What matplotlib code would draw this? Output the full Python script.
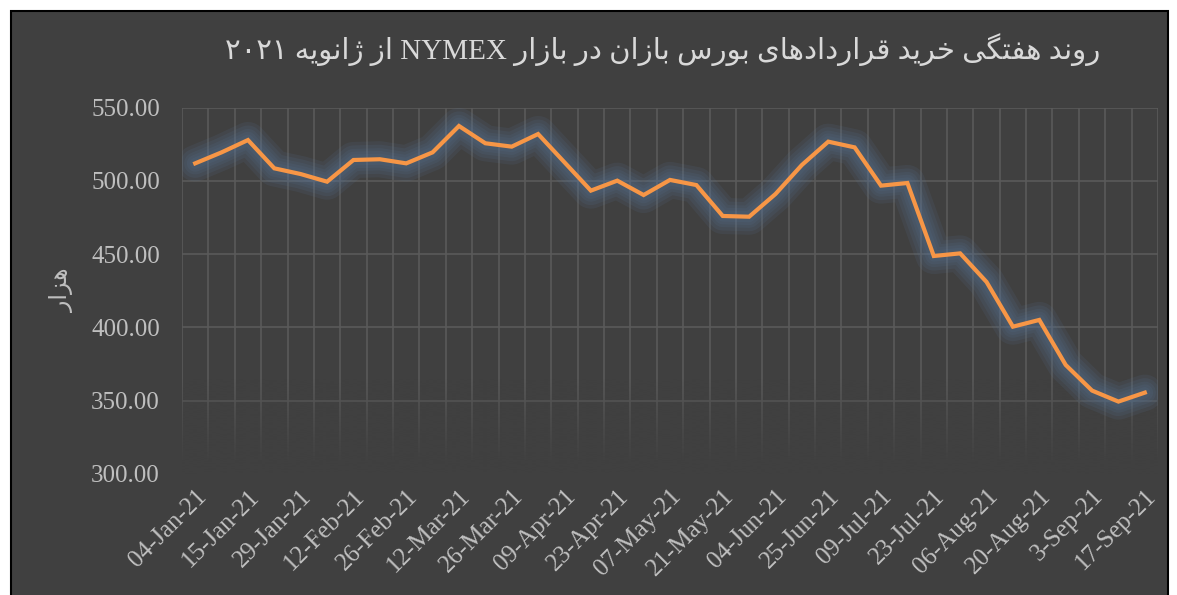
import matplotlib
matplotlib.use('Agg')
import matplotlib.pyplot as plt
import numpy as np
from matplotlib.patches import Rectangle
from matplotlib.ticker import FixedLocator


dates = [
    '04-Jan-21', '08-Jan-21', '15-Jan-21', '22-Jan-21', '29-Jan-21',
    '05-Feb-21', '12-Feb-21', '19-Feb-21', '26-Feb-21', '05-Mar-21',
    '12-Mar-21', '19-Mar-21', '26-Mar-21', '02-Apr-21', '09-Apr-21',
    '16-Apr-21', '23-Apr-21', '30-Apr-21', '07-May-21', '14-May-21',
    '21-May-21', '28-May-21', '04-Jun-21', '18-Jun-21', '25-Jun-21',
    '02-Jul-21', '09-Jul-21', '16-Jul-21', '23-Jul-21', '30-Jul-21',
    '06-Aug-21', '13-Aug-21', '20-Aug-21', '27-Aug-21', '3-Sep-21',
    '10-Sep-21', '17-Sep-21',
]
contracts = [
    511.9, 519.4, 527.8, 508.5, 504.6, 499.4, 514.2, 514.7, 511.9, 519.4,
    537.4, 525.6, 523.3, 531.9, 512.6, 493.3, 500.1, 490.3, 500.6, 497.1,
    476.0, 475.5, 491.0, 510.8, 526.7, 522.8, 496.7, 498.5, 448.7, 450.5,
    431.0, 400.5, 405.1, 374.4, 356.9, 349.4, 355.5,
]
y_ticks = [300, 350, 400, 450, 500, 550]

title_text = 'روند هفتگی خرید قراردادهای بورس بازان در بازار NYMEX از ژانویه ۲۰۲۱'
ylabel_text = 'هزار'

# isolated, final, initial, medial
FORMS = {
    '\u0627': ('\ufe8d', '\ufe8e', None, None),
    '\u0628': ('\ufe8f', '\ufe90', '\ufe91', '\ufe92'),
    '\u062a': ('\ufe95', '\ufe96', '\ufe97', '\ufe98'),
    '\u062e': ('\ufea5', '\ufea6', '\ufea7', '\ufea8'),
    '\u062f': ('\ufea9', '\ufeaa', None, None),
    '\u0631': ('\ufead', '\ufeae', None, None),
    '\u0632': ('\ufeaf', '\ufeb0', None, None),
    '\u0698': ('\ufb8a', '\ufb8b', None, None),
    '\u0633': ('\ufeb1', '\ufeb2', '\ufeb3', '\ufeb4'),
    '\u0641': ('\ufed1', '\ufed2', '\ufed3', '\ufed4'),
    '\u0642': ('\ufed5', '\ufed6', '\ufed7', '\ufed8'),
    '\u0646': ('\ufee5', '\ufee6', '\ufee7', '\ufee8'),
    '\u0647': ('\ufee9', '\ufeea', '\ufeeb', '\ufeec'),
    '\u0648': ('\ufeed', '\ufeee', None, None),
    '\u06cc': ('\ufbfc', '\ufbfd', '\ufbfe', '\ufbff'),
    '\u06af': ('\ufb92', '\ufb93', '\ufb94', '\ufb95'),
}


def shape_word(word):
    out = []
    for i, ch in enumerate(word):
        if ch not in FORMS:
            out.append(ch)
            continue
        prev = word[i - 1] if i > 0 else None
        nxt = word[i + 1] if i + 1 < len(word) else None
        iso, fin, ini, med = FORMS[ch]
        join_prev = prev in FORMS and FORMS[prev][2] is not None
        join_next = ini is not None and nxt in FORMS
        if join_prev and join_next:
            out.append(med)
        elif join_prev:
            out.append(fin)
        elif join_next:
            out.append(ini)
        else:
            out.append(iso)
    return ''.join(out)


def to_visual(text):
    # matplotlib has no bidi, so reverse words by hand
    res = []
    for w in reversed(text.split(' ')):
        if any(c in FORMS for c in w):
            res.append(shape_word(w)[::-1])
        else:
            res.append(w)
    return ' '.join(res)


bg = '#404040'
grid_c = '#5a5a5a'
text_c = '#BFBFBF'
fonts = ['Liberation Serif', 'DejaVu Sans']

fig = plt.figure(figsize=(11.77, 5.95), dpi=100, facecolor='white')
fig.patches.append(Rectangle((11 / 1177, -0.01), 1157 / 1177, 1 - 11 / 595 + 0.01,
                             transform=fig.transFigure, facecolor=bg,
                             edgecolor='black', linewidth=1.5, zorder=-5))

ax = fig.add_axes([182 / 1177, 1 - 474 / 595, 976 / 1177, (474 - 107.5) / 595])
ax.set_zorder(2)
ax.set_facecolor(bg)
ax.patch.set_alpha(0)
x = np.arange(len(contracts))
ax.set_xlim(-0.5, len(contracts) - 0.5)
ax.set_ylim(300, 550)

# gridlines between categories
ax.xaxis.set_minor_locator(FixedLocator(np.arange(-0.5, len(contracts), 1.0)))
ax.set_yticks(y_ticks)
ax.set_yticklabels(['{:.2f}'.format(v) for v in y_ticks])
ax.set_xticks(x[::2])
ax.set_xticklabels(dates[::2], rotation=45, ha='right', rotation_mode='anchor')
ax.grid(axis='y', which='major', color=grid_c, linewidth=1.2)
ax.grid(axis='x', which='minor', color=grid_c, linewidth=1.2)
ax.set_axisbelow(True)
ax.tick_params(which='both', length=0, colors=text_c, labelsize=18)
ax.tick_params(axis='y', pad=16)
ax.tick_params(axis='x', pad=8)
for lab in ax.get_xticklabels() + ax.get_yticklabels():
    lab.set_family(fonts)
for s in ax.spines.values():
    s.set_visible(False)

# gridlines fade out near the bottom
ramp = np.clip((365 - np.linspace(300, 365, 100)) / 58, 0, 1)
fade = np.zeros((100, 1, 4))
fade[:, 0, :3] = matplotlib.colors.to_rgb(bg)
fade[:, 0, 3] = ramp
ax.imshow(fade, extent=(-0.5, len(contracts) - 0.5, 300, 365), origin='lower',
          aspect='auto', zorder=1, interpolation='bilinear')

# soft glow under the line
for w in [26, 21, 16, 12, 8]:
    ax.plot(x, contracts, color='#587699', linewidth=w, alpha=0.13,
            solid_capstyle='round', solid_joinstyle='round', zorder=2)
ax.plot(x, contracts, color='#F79646', linewidth=3.0,
        solid_joinstyle='miter', zorder=3)

fig.text(0.563, 1 - 50 / 595, to_visual(title_text), ha='center', va='center',
         fontsize=21, color='#D9D9D9', family=fonts)
fig.text(62 / 1177, 1 - 290 / 595, to_visual(ylabel_text), ha='center', va='center',
         rotation=90, fontsize=17, color=text_c, family=fonts)

fig.savefig('out.png', dpi=100, facecolor='white')
